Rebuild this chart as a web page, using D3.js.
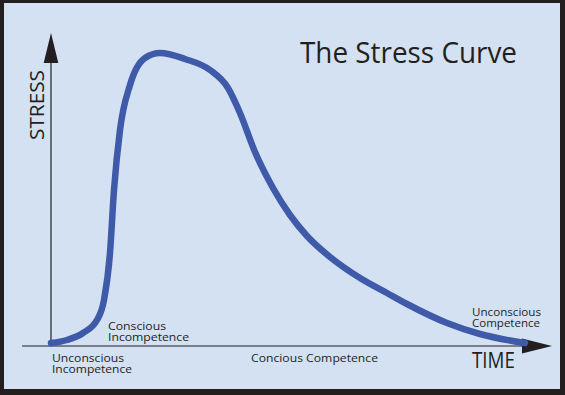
<!DOCTYPE html>
<html>
<head>
<meta charset="utf-8">
<script src="https://cdn.jsdelivr.net/npm/d3@7/dist/d3.min.js"></script>
<style>
  html, body { margin: 0; padding: 0; background: #231f20; }
  svg { display: block; }
  text { font-family: "Open Sans", "Noto Sans", sans-serif; fill: #231f20; }
</style>
</head>
<body>
<script>
// ---- data (time, stress) ----
const time   = [0, 16, 32, 46, 53, 59, 63, 69, 79, 94, 109, 134, 159, 177, 189, 204, 222, 239, 256, 279, 309, 336, 356, 396, 429, 474];
const stress = [3, 6, 13, 26, 46, 93, 156, 216, 261, 288, 293, 287, 276, 258, 233, 194, 158, 131, 110, 89, 68, 53, 42, 23, 12, 3];

const stageLabels = [
  { lines: ["Unconscious", "Incompetence"], t: 1, s: -16, w: [72, 80] },
  { lines: ["Conscious", "Incompetence"], t: 57, s: 16, w: [58, 81] },
  { lines: ["Concious Competence"], t: 200, s: -16, w: [127] },
  { lines: ["Unconscious", "Competence"], t: 421, s: 30, w: [69, 68] }
];
const title = "The Stress Curve";
const xLabel = "TIME";
const yLabel = "STRESS";

const W = 565, H = 395;
const svg = d3.select("body").append("svg").attr("width", W).attr("height", H);

// frame
svg.append("rect").attr("x", 0).attr("y", 0).attr("width", W).attr("height", H).attr("fill", "#231f20");
svg.append("rect").attr("x", 4).attr("y", 3).attr("width", 556).attr("height", 386).attr("fill", "#d3e1f3");

// scales
const x = d3.scaleLinear().domain([0, 500]).range([51, 551]);
const y = d3.scaleLinear().domain([0, 300]).range([346, 46]);

const ink = "#231f20";

// x axis line + arrow
svg.append("line").attr("x1", x(-29)).attr("x2", x(472)).attr("y1", y(0)).attr("y2", y(0))
  .attr("stroke", ink).attr("stroke-width", 1.2);
svg.append("path")
  .attr("d", `M${x(471)},${y(0) - 7.5} L${x(501)},${y(0)} L${x(471)},${y(0) + 7.5} Z`)
  .attr("fill", ink);

// y axis line + arrow
svg.append("line").attr("x1", x(0)).attr("x2", x(0)).attr("y1", y(0)).attr("y2", y(283))
  .attr("stroke", ink).attr("stroke-width", 1.2);
svg.append("path")
  .attr("d", `M${x(0) - 7.3},${y(283)} L${x(0)},${y(313)} L${x(0) + 7.3},${y(283)} Z`)
  .attr("fill", ink);

// curve
const pts = time.map((t, i) => [t, stress[i]]);
const line = d3.line().x(d => x(d[0])).y(d => y(d[1])).curve(d3.curveMonotoneX);
svg.append("path").datum(pts).attr("d", line)
  .attr("fill", "none").attr("stroke", "#3f5aa9").attr("stroke-width", 6.5)
  .attr("stroke-linecap", "round").attr("stroke-linejoin", "round");

// title
svg.append("text").attr("x", 300).attr("y", 63).attr("font-size", 30)
  .attr("textLength", 217).attr("lengthAdjust", "spacingAndGlyphs").text(title);

// axis labels
svg.append("text").attr("x", 472).attr("y", 368).attr("font-size", 21)
  .attr("textLength", 43).attr("lengthAdjust", "spacingAndGlyphs").text(xLabel);
svg.append("text").attr("transform", "translate(44,140) rotate(-90)").attr("font-size", 19.5)
  .attr("textLength", 70).attr("lengthAdjust", "spacingAndGlyphs").text(yLabel);

// stage labels (multi-line as tspans)
stageLabels.forEach(l => {
  const t = svg.append("text").attr("font-size", 11);
  l.lines.forEach((ln, i) => {
    t.append("tspan")
      .attr("x", x(l.t)).attr("y", y(l.s) + i * 10.5)
      .attr("textLength", l.w[i]).attr("lengthAdjust", "spacingAndGlyphs")
      .text(ln);
  });
});
</script>
</body>
</html>
